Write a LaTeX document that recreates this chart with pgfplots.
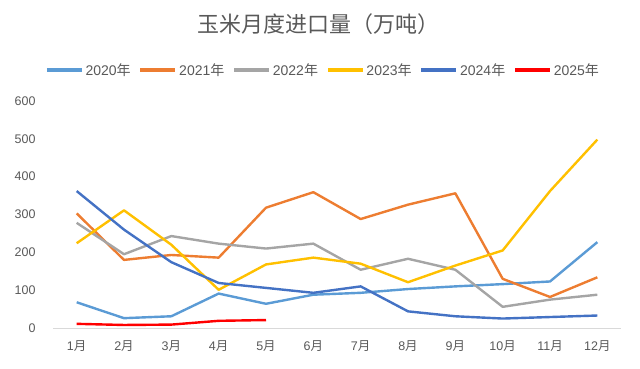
\documentclass[border=0pt]{standalone}
\usepackage{pgfplots}
\pgfplotsset{compat=1.18}
\usepackage{fontspec}
\setmainfont{Liberation Sans}
\newfontfamily\cjk{Noto Sans CJK SC}
\definecolor{txt}{HTML}{595959}
\definecolor{c20}{HTML}{5B9BD5}
\definecolor{c21}{HTML}{ED7D31}
\definecolor{c22}{HTML}{A5A5A5}
\definecolor{c23}{HTML}{FFC000}
\definecolor{c24}{HTML}{4472C4}
\definecolor{c25}{HTML}{FF0000}
\definecolor{axl}{HTML}{D9D9D9}
\begin{document}
\begin{tikzpicture}[x=1bp,y=1bp]
\useasboundingbox (0,0) rectangle (640,368);
\begin{axis}[
  at={(53bp,40bp)}, anchor=south west,
  scale only axis, width=568bp, height=227bp,
  xmin=0.5, xmax=12.5, ymin=0, ymax=600,
  xtick={1,...,12},
  xticklabels={1{\cjk 月},2{\cjk 月},3{\cjk 月},4{\cjk 月},5{\cjk 月},6{\cjk 月},7{\cjk 月},8{\cjk 月},9{\cjk 月},10{\cjk 月},11{\cjk 月},12{\cjk 月}},
  ytick={0,100,...,600},
  /pgf/number format/assume math mode=true,
  major tick length=0pt,
  axis line style={draw=none},
  extra y ticks={0}, extra y tick labels={},
  extra y tick style={ymajorgrids=true, major grid style={axl, line width=1bp}},
  tick label style={font=\fontsize{12.5bp}{14bp}\selectfont, text=txt},
  yticklabel style={xshift=-14bp},
  xticklabel style={yshift=-9bp},
  title={\cjk 玉米月度进口量（万吨）},
  title style={at={(0.5,1)}, anchor=center, yshift=71bp, xshift=-19bp, font=\fontsize{22bp}{24bp}\selectfont, text=txt},
  legend columns=6,
  legend style={at={(0.5,1)}, anchor=center, yshift=31bp, xshift=-14bp, draw=none, fill=none,
    font=\fontsize{14bp}{16bp}\selectfont, text=txt,
    /tikz/every even column/.append style={column sep=6bp}, inner sep=0pt},
  legend image code/.code={\draw[#1, line width=3.5bp] (0bp,0bp) -- (35bp,0bp);},
  every axis plot/.append style={line width=2.4bp, line join=round, mark=none},
  clip=false,
]
\addplot[c20] coordinates {(1,68)(2,26)(3,31)(4,91)(5,64)(6,88)(7,93)(8,103)(9,110)(10,116)(11,123)(12,227)};
\addlegendentry{2020{\cjk 年}}
\addplot[c21] coordinates {(1,303)(2,180)(3,193)(4,186)(5,318)(6,359)(7,288)(8,326)(9,356)(10,130)(11,82)(12,134)};
\addlegendentry{2021{\cjk 年}}
\addplot[c22] coordinates {(1,278)(2,195)(3,243)(4,223)(5,210)(6,223)(7,154)(8,183)(9,154)(10,56)(11,75)(12,88)};
\addlegendentry{2022{\cjk 年}}
\addplot[c23] coordinates {(1,224)(2,311)(3,220)(4,101)(5,168)(6,186)(7,170)(8,121)(9,165)(10,205)(11,362)(12,498)};
\addlegendentry{2023{\cjk 年}}
\addplot[c24] coordinates {(1,362)(2,260)(3,174)(4,119)(5,106)(6,93)(7,110)(8,44)(9,31)(10,25)(11,29)(12,33)};
\addlegendentry{2024{\cjk 年}}
\addplot[c25] coordinates {(1,11)(2,8)(3,9)(4,19)(5,21)};
\addlegendentry{2025{\cjk 年}}
\end{axis}
\end{tikzpicture}
\end{document}
